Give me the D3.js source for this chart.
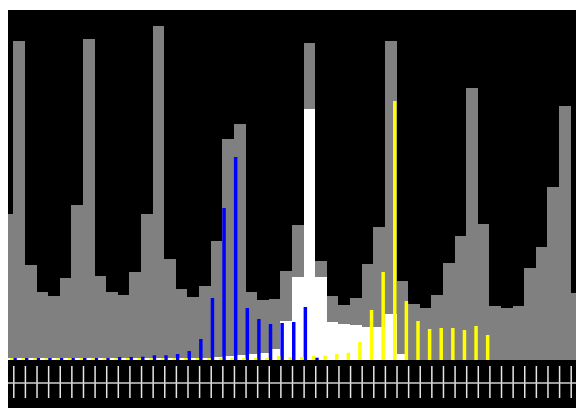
<!DOCTYPE html>
<html>
<head>
    <script src="https://d3js.org/d3.v7.min.js"></script>
    <style>
        body { margin: 0; background: #fff; }
        .tick line { stroke: #e6e6e6; stroke-width: 1.5px; }
    </style>
</head>
<body>
    <div id="chart"></div>
    <script>
        // bin index -1 .. 48 (first and last bins are cut by the frame)
        const bins = d3.range(-1, 49);

        const grayCounts = [146, 319, 95, 68, 64, 82, 155, 321, 84, 68, 65, 88, 146, 334, 101, 71, 63, 74, 119, 221,
            236, 68, 60, 61, 89, 135, 317, 99, 64, 55, 62, 96, 133, 319, 79, 56, 52, 65, 97, 124,
            272, 136, 54, 52, 54, 92, 113, 173, 254, 67];
        const whiteCounts = [2, 2, 2, 2, 2, 2, 2, 2, 2, 2, 2, 2, 2, 2, 2, 2, 2, 2, 3, 4,
            5, 6, 7, 11, 39, 83, 251, 83, 38, 36, 35, 33, 33, 46, 6, 0, 0, 0, 0, 0,
            0, 0, 0, 0, 0, 0, 0, 0, 0, 0];
        const blueCounts = [2, 2, 2, 2, 2, 2, 2, 2, 2, 2, 3, 3, 3.3, 4.7, 4.7, 6, 9, 21, 62, 152,
            203, 52, 41, 36, 37, 38, 53, 2.3, 0, 0, 0, 0, 0, 0, 0, 0, 0, 0, 0, 0,
            0, 0, 0, 0, 0, 0, 0, 0, 0, 0];
        const yellowCounts = [2, 2, 2, 2, 2, 2, 2, 2, 2, 2, 2, 2, 2, 2, 2, 2, 2, 2, 2, 2,
            2, 2, 2, 4, 3, 3, 4.3, 4.3, 6, 7.3, 18, 50, 88, 259, 59, 39, 31, 32, 32, 30,
            34, 25, 0, 0, 0, 0, 0, 0, 0, 0];

        const W = 576, H = 408;
        const padL = 8, padT = 10, base = 360;

        const svg = d3.select("#chart").append("svg")
            .attr("width", W)
            .attr("height", H)
            .style("display", "block");

        svg.append("rect")
            .attr("x", padL).attr("y", padT)
            .attr("width", W - padL).attr("height", H - padT)
            .attr("fill", "#000");

        svg.append("clipPath").attr("id", "clip")
            .append("rect")
            .attr("x", padL).attr("y", padT)
            .attr("width", W - padL).attr("height", base - padT);

        const x = d3.scaleLinear().domain([0, 48]).range([13.3, 570.7]);
        const y = d3.scaleLinear().domain([0, 350]).range([base, padT]);
        const bw = x(1) - x(0);
        const thin = bw * 0.3;

        const plot = svg.append("g").attr("clip-path", "url(#clip)");

        function bars(values, color, xOff, width, crisp) {
            plot.append("g")
                .attr("shape-rendering", crisp ? "crispEdges" : null)
                .selectAll("rect")
                .data(bins.map((b, i) => ({ b, v: values[i] })).filter(d => d.v > 0))
                .join("rect")
                .attr("x", d => x(d.b) + xOff)
                .attr("y", d => y(d.v))
                .attr("width", width)
                .attr("height", d => base - y(d.v))
                .attr("fill", color);
        }

        bars(grayCounts, "#808080", 0, bw, true);
        bars(whiteCounts, "#ffffff", 0, bw, true);
        bars(blueCounts, "#0000ff", 0, thin, false);
        bars(yellowCounts, "#ffff00", bw - thin, thin, false);

        // bottom strip with ticks
        const axis = d3.axisBottom(x)
            .tickValues(d3.range(0, 49))
            .tickSize(32)
            .tickSizeOuter(0)
            .tickFormat("");
        const ax = svg.append("g")
            .attr("transform", `translate(0,366)`)
            .call(axis);
        ax.select(".domain").remove();

        svg.append("line")
            .attr("x1", padL).attr("x2", W)
            .attr("y1", 383).attr("y2", 383)
            .attr("stroke", "#d0d0d0")
            .attr("stroke-width", 1.5);
    </script>
</body>
</html>
